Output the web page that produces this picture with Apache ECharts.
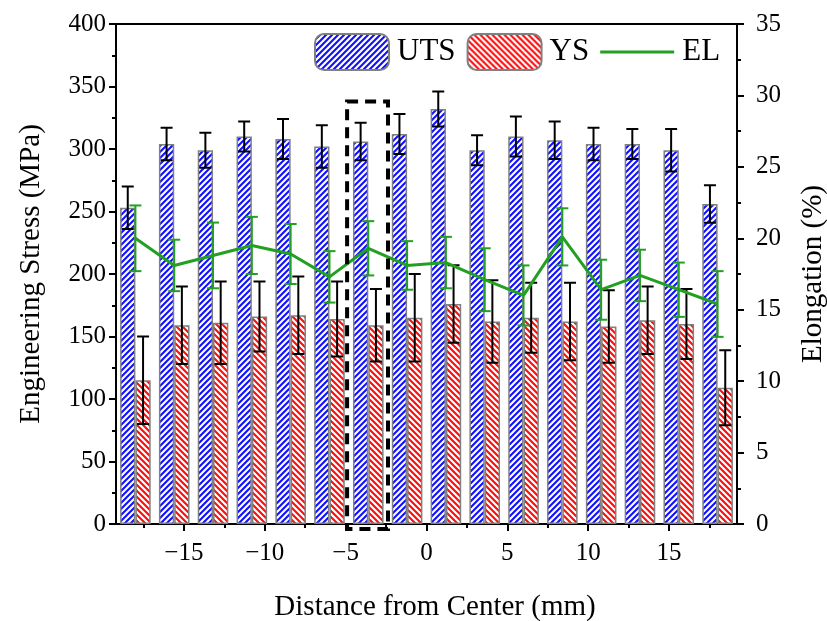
<!DOCTYPE html>
<html>
<head>
<meta charset="utf-8">
<script src="https://cdn.jsdelivr.net/npm/echarts@6/dist/echarts.min.js"></script>
<style>
  html, body { margin: 0; padding: 0; background: #fff; }
  #chart { width: 827px; height: 621px; }
</style>
</head>
<body>
<div id="chart"></div>
<script>
// Sample positions across the joint (mm from center)
const positions = [-18, -15.6, -13.2, -10.8, -8.4, -6, -3.6, -1.2, 1.2, 3.6, 6, 8.4, 10.8, 13.2, 15.6, 18];
// Ultimate tensile strength (MPa) and its scatter
const utsMean = [253, 304, 299, 310, 308, 302, 306, 312, 332, 299, 310, 307, 304, 304, 299, 256];
const utsErr  = [17, 13, 14, 12, 16, 17, 15, 16, 14, 12, 16, 15, 13, 12, 17, 15];
// Yield strength (MPa) and its scatter
const ysMean  = [115, 159, 161, 166, 167, 164, 159, 165, 176, 162, 165, 162, 158, 163, 160, 109];
const ysErr   = [35, 31, 33, 28, 31, 30, 29, 35, 31, 33, 28, 31, 29, 27, 28, 30];
// Elongation (%) and its scatter
const elMean  = [20.0, 18.1, 18.8, 19.5, 18.9, 17.3, 19.3, 18.1, 18.3, 17.1, 16.0, 20.1, 16.4, 17.4, 16.4, 15.4];
const elErr   = [2.3, 1.8, 2.3, 2.0, 2.1, 1.8, 1.9, 1.7, 1.8, 2.2, 2.1, 2.0, 2.1, 1.8, 1.9, 2.3];

// Axis ticks
const xMajorTicks = [-15, -10, -5, 0, 5, 10, 15];
const xMinorTicks = [-17.5, -12.5, -7.5, -2.5, 2.5, 7.5, 12.5, 17.5];

// Highlighted specimen (x range in mm, y range in MPa)
const highlightX = [-4.91, -2.38];
const highlightY = [-4, 338];

const FONT = "'Liberation Serif', 'Times New Roman', serif";
const BAR_W = 15.3;
const BLUE = '#1010ff';
const RED = '#ff0c0c';
const GREEN = '#22a022';

function hatch(color, rising) {
  const s = 6;
  const c = document.createElement('canvas');
  c.width = s; c.height = s;
  const g = c.getContext('2d');
  g.fillStyle = '#ffffff';
  g.fillRect(0, 0, s, s);
  g.strokeStyle = color;
  g.lineWidth = 2.1;
  g.beginPath();
  if (rising) {
    g.moveTo(-1, s + 1); g.lineTo(s + 1, -1);
    g.moveTo(-1, 1); g.lineTo(1, -1);
    g.moveTo(s - 1, s + 1); g.lineTo(s + 1, s - 1);
  } else {
    g.moveTo(-1, -1); g.lineTo(s + 1, s + 1);
    g.moveTo(s - 1, -1); g.lineTo(s + 1, 1);
    g.moveTo(-1, s - 1); g.lineTo(1, s + 1);
  }
  g.stroke();
  return c;
}

function errorBars(offsetPx, color, capHalf, lw) {
  return function (params, api) {
    const x = api.value(0);
    const top = api.coord([x, api.value(2)]);
    const bot = api.coord([x, api.value(1)]);
    const cx = top[0] + offsetPx;
    const style = { stroke: color, lineWidth: lw, fill: null };
    return {
      type: 'group',
      children: [
        { type: 'line', shape: { x1: cx, y1: top[1], x2: cx, y2: bot[1] }, style },
        { type: 'line', shape: { x1: cx - capHalf, y1: top[1], x2: cx + capHalf, y2: top[1] }, style },
        { type: 'line', shape: { x1: cx - capHalf, y1: bot[1], x2: cx + capHalf, y2: bot[1] }, style }
      ]
    };
  };
}

const range = (mean, err) => positions.map((x, i) => [x, mean[i] - err[i], mean[i] + err[i]]);

// Legend key for the elongation line: a thin stroke inside a 74x36 box
const lineKey = 'path://M0,0M0,16.5L74,16.5L74,19.5L0,19.5ZM74,36';

const chart = echarts.init(document.getElementById('chart'), null, { renderer: 'canvas' });

const axisLine = { show: true, onZero: false, lineStyle: { color: '#000', width: 2 } };
const tickStyle = { color: '#000', width: 2 };

chart.setOption({
  animation: false,
  backgroundColor: '#fff',
  textStyle: { fontFamily: FONT },
  grid: {
    left: 116, right: 90, top: 24, bottom: 97,
    show: true, borderColor: '#000', borderWidth: 2,
    outerBoundsMode: 'none'
  },
  legend: {
    data: ['UTS', 'YS', { name: 'EL', icon: lineKey }],
    left: 314, top: 33, padding: 0,
    itemWidth: 74, itemHeight: 36, itemGap: 11,
    textStyle: { fontFamily: FONT, fontSize: 31, color: '#000', padding: [0, 0, 0, 3] }
  },
  xAxis: [
    {
      type: 'value', min: -19.2, max: 19.2,
      name: 'Distance from Center (mm)', nameLocation: 'middle', nameGap: 69,
      nameTextStyle: { fontFamily: FONT, fontSize: 29, color: '#000', padding: [0, 0, 0, 17] },
      axisLine,
      axisTick: { show: true, length: 7, lineStyle: tickStyle, customValues: xMajorTicks },
      axisLabel: {
        fontFamily: FONT, fontSize: 25, color: '#000', margin: 17,
        customValues: xMajorTicks,
        formatter: v => (v < 0 ? '\u2212' + Math.abs(v) : String(v))
      },
      splitLine: { show: false }
    },
    {
      type: 'value', min: -19.2, max: 19.2, position: 'bottom',
      axisLine: { show: false, onZero: false },
      axisTick: { show: true, length: 4, lineStyle: tickStyle, customValues: xMinorTicks },
      axisLabel: { show: false },
      splitLine: { show: false }
    }
  ],
  yAxis: [
    {
      type: 'value', min: 0, max: 400, interval: 50,
      name: 'Engineering Stress (MPa)', nameLocation: 'middle', nameGap: 70,
      nameTextStyle: { fontFamily: FONT, fontSize: 29, color: '#000' },
      axisLine,
      axisTick: { show: true, length: 7, lineStyle: tickStyle },
      minorTick: { show: true, splitNumber: 2, length: 4, lineStyle: tickStyle },
      axisLabel: { fontFamily: FONT, fontSize: 25, color: '#000', margin: 10 },
      splitLine: { show: false }
    },
    {
      type: 'value', min: 0, max: 35, interval: 5, position: 'right',
      name: 'Elongation (%)', nameLocation: 'middle', nameGap: 62, nameRotate: 90,
      nameTextStyle: { fontFamily: FONT, fontSize: 29, color: '#000' },
      axisLine,
      axisTick: { show: true, length: 7, lineStyle: tickStyle },
      minorTick: { show: true, splitNumber: 2, length: 4, lineStyle: tickStyle },
      axisLabel: { fontFamily: FONT, fontSize: 25, color: '#000', margin: 19 },
      splitLine: { show: false }
    }
  ],
  series: [
    {
      name: 'UTS', type: 'bar', xAxisIndex: 0, yAxisIndex: 0,
      barWidth: BAR_W, barGap: '0%', z: 2,
      itemStyle: { color: { image: hatch(BLUE, true), repeat: 'repeat' }, borderColor: '#808080', borderWidth: 1.5 },
      data: positions.map((x, i) => [x, utsMean[i]])
    },
    {
      name: 'YS', type: 'bar', xAxisIndex: 0, yAxisIndex: 0,
      barWidth: BAR_W, barGap: '0%', z: 2,
      itemStyle: { color: { image: hatch(RED, false), repeat: 'repeat' }, borderColor: '#808080', borderWidth: 1.5 },
      data: positions.map((x, i) => [x, ysMean[i]])
    },
    {
      name: 'UTS error', type: 'custom', xAxisIndex: 0, yAxisIndex: 0, z: 3,
      renderItem: errorBars(-BAR_W / 2, '#000', 6, 2),
      encode: { x: 0, y: [1, 2] },
      data: range(utsMean, utsErr)
    },
    {
      name: 'YS error', type: 'custom', xAxisIndex: 0, yAxisIndex: 0, z: 3,
      renderItem: errorBars(BAR_W / 2, '#000', 6, 2),
      encode: { x: 0, y: [1, 2] },
      data: range(ysMean, ysErr)
    },
    {
      name: 'EL', type: 'line', xAxisIndex: 0, yAxisIndex: 1, z: 4,
      symbol: 'none', showSymbol: false,
      itemStyle: { color: GREEN },
      lineStyle: { color: GREEN, width: 3 },
      data: positions.map((x, i) => [x, elMean[i]])
    },
    {
      name: 'EL error', type: 'custom', xAxisIndex: 0, yAxisIndex: 1, z: 4,
      renderItem: errorBars(0, GREEN, 6, 2),
      encode: { x: 0, y: [1, 2] },
      data: range(elMean, elErr)
    },
    {
      name: 'highlight', type: 'custom', xAxisIndex: 0, yAxisIndex: 0, z: 6,
      clip: false, silent: true,
      renderItem: function (params, api) {
        const a = api.coord([api.value(0), api.value(3)]);
        const b = api.coord([api.value(2), api.value(1)]);
        return {
          type: 'rect',
          shape: { x: a[0], y: a[1], width: b[0] - a[0], height: b[1] - a[1] },
          style: { fill: null, stroke: '#000', lineWidth: 4, lineDash: [11, 7] }
        };
      },
      encode: { x: [0, 2], y: [1, 3] },
      data: [[highlightX[0], highlightY[0], highlightX[1], highlightY[1]]]
    }
  ]
});
</script>
</body>
</html>
